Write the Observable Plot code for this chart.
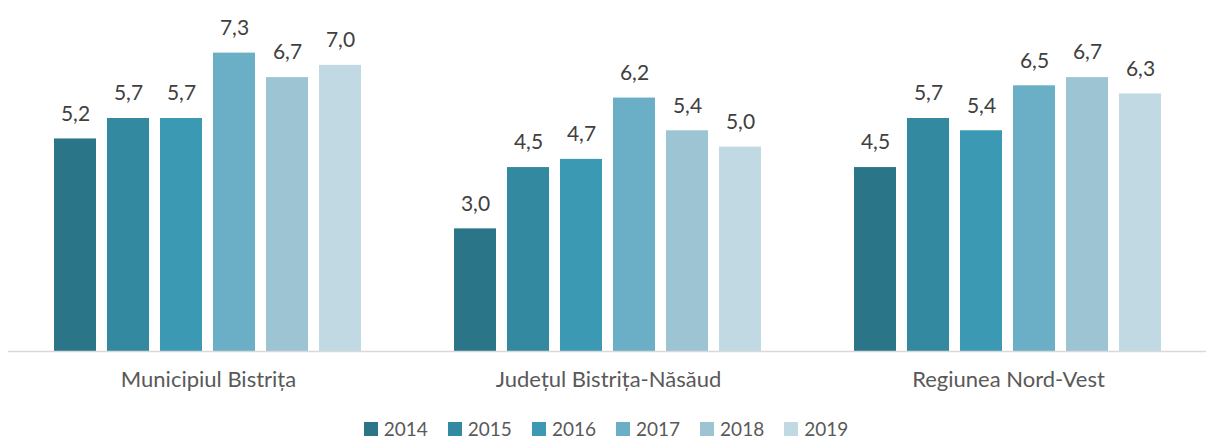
<!DOCTYPE html>
<html>
<head>
<meta charset="utf-8">
<script src="https://cdn.jsdelivr.net/npm/d3@7"></script>
<script src="https://cdn.jsdelivr.net/npm/@observablehq/plot@0.6"></script>
<style>
  html, body { margin: 0; padding: 0; background: #fff; }
  #chart svg { display: block; }
  #legend { display: flex; justify-content: center; align-items: center; height: 28px; margin-top: 15px;
    font-family: Lato, "Noto Sans", sans-serif; font-size: 19px; line-height: 20px; color: #595959; padding-left: 6px; }
  .item { display: flex; align-items: center; margin: 0 10px; }
  .sw { width: 14px; height: 14px; margin-right: 6px; }
</style>
</head>
<body>
<div id="chart"></div>
<div id="legend"></div>
<script>
const groups = ["Municipiul Bistrița", "Județul Bistrița-Năsăud", "Regiunea Nord-Vest"];
const years = ["2014", "2015", "2016", "2017", "2018", "2019"];
const municipiulBistrita = [5.2, 5.7, 5.7, 7.3, 6.7, 7.0];
const judetulBistritaNasaud = [3.0, 4.5, 4.7, 6.2, 5.4, 5.0];
const regiuneaNordVest = [4.5, 5.7, 5.4, 6.5, 6.7, 6.3];
const colors = ["#2a7588", "#33899f", "#3b99b4", "#6aafc6", "#9dc4d3", "#c0d9e2"];

const series = [municipiulBistrita, judetulBistritaNasaud, regiuneaNordVest];
const data = [];
groups.forEach((g, gi) => years.forEach((y, yi) => data.push({group: g, year: y, value: series[gi][yi]})));

const fmt = v => v.toFixed(1).replace(".", ",");

const chart = Plot.plot({
  width: 1206,
  height: 400,
  marginLeft: 8,
  marginRight: -2,
  marginTop: 24,
  marginBottom: 49,
  style: {fontFamily: "Lato, 'Noto Sans', sans-serif", background: "#fff"},
  fx: {domain: groups, padding: 0, label: null},
  x: {domain: years, paddingInner: 0.2, paddingOuter: 0.85, axis: null},
  y: {domain: [0, 8], axis: null},
  color: {domain: years, range: colors},
  marks: [
    Plot.axisFx({anchor: "bottom", tickSize: 0, tickPadding: 20, fontSize: 22, fill: "#595959", label: null}),
    Plot.barY(data, {fx: "group", x: "year", y: "value", fill: "year"}),
    Plot.ruleY([0], {stroke: "#d9d9d9", strokeWidth: 1.5}),
    Plot.text(data, {fx: "group", x: "year", y: "value", text: d => fmt(d.value), dy: -25, fontSize: 21, fill: "#404040", lineAnchor: "middle"})
  ]
});
document.getElementById("chart").appendChild(chart);

const legend = document.getElementById("legend");
years.forEach((y, i) => {
  const it = document.createElement("div");
  it.className = "item";
  const sw = document.createElement("div");
  sw.className = "sw";
  sw.style.background = colors[i];
  const t = document.createElement("span");
  t.textContent = y;
  it.appendChild(sw); it.appendChild(t);
  legend.appendChild(it);
});
</script>
</body>
</html>
